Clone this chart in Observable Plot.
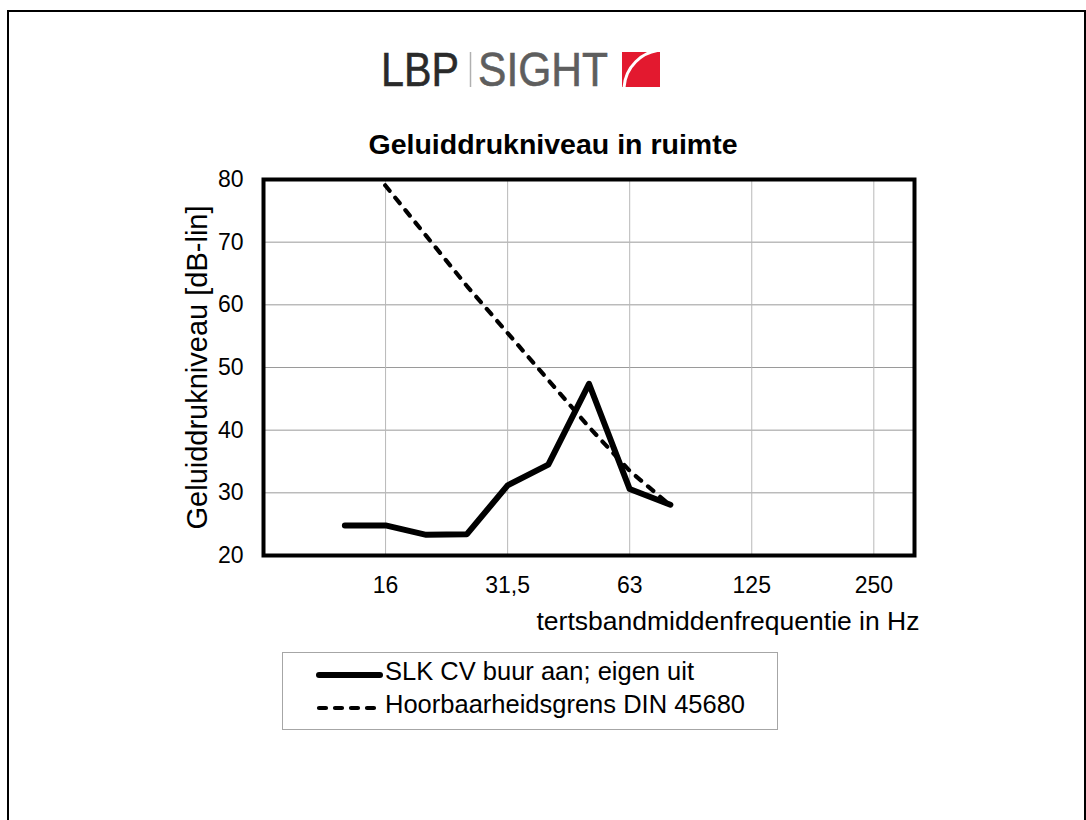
<!DOCTYPE html>
<html><head><meta charset="utf-8">
<script src="https://cdn.jsdelivr.net/npm/d3@7"></script>
<script src="https://cdn.jsdelivr.net/npm/@observablehq/plot@0.6"></script>
<style>
html,body{margin:0;padding:0;background:#fff;}
body{width:1086px;height:820px;position:relative;overflow:hidden;font-family:"Liberation Sans",Arial,sans-serif;color:#000;}
#border{position:absolute;left:7px;top:10px;width:1079px;height:830px;border-left:2px solid #000;border-top:2px solid #000;border-right:2px solid #000;box-sizing:border-box;}
#logo{position:absolute;left:370px;top:40px;}
#title{position:absolute;left:253px;width:600px;top:130px;text-align:center;font-weight:bold;font-size:28.5px;line-height:28px;white-space:nowrap;}
#chart{position:absolute;left:0;top:160px;}
#legend{position:absolute;left:282px;top:652px;width:496px;height:78px;border:1px solid #a6a6a6;box-sizing:border-box;}
.lrow{position:absolute;left:0;height:26px;font-size:25.5px;line-height:26px;white-space:nowrap;}
.lrow svg{position:absolute;left:30px;top:0;}
.lrow span{position:absolute;left:102px;top:0;}
</style>
</head><body>
<div id="border"></div>
<svg id="logo" width="320" height="60">
  <text x="11" y="46" font-family="Liberation Sans, Arial, sans-serif" font-size="49" fill="#2a2a2a" stroke="#2a2a2a" stroke-width="0.6" textLength="78" lengthAdjust="spacingAndGlyphs">LBP</text>
  <line x1="100.5" y1="12" x2="100.5" y2="47" stroke="#b0b0b0" stroke-width="1.5"/>
  <text x="108" y="46" font-family="Liberation Sans, Arial, sans-serif" font-size="49" fill="#5e5e5e" stroke="#5e5e5e" stroke-width="0.6" textLength="130" lengthAdjust="spacingAndGlyphs">SIGHT</text>
  <clipPath id="sq"><rect x="252" y="12" width="38" height="35"/></clipPath>
  <rect x="252" y="12" width="38" height="35" fill="#e3192f"/>
  <circle cx="294" cy="50" r="40" fill="none" stroke="#fff" stroke-width="3" clip-path="url(#sq)"/>
</svg>
<div id="title"></div>
<div id="chart"></div>
<div id="legend"></div>
<script>
// ---- data ----
const freqs = [12.5, 16, 20, 25, 31.5, 40, 50, 63, 80];
const slkValues = [24.8, 24.8, 23.3, 23.4, 31.2, 34.5, 47.4, 30.6, 28.1];
const dinValues = [87, 79, 71, 63, 55.5, 48, 40.5, 33.5, 28];
const seriesNames = ["SLK CV buur aan; eigen uit", "Hoorbaarheidsgrens DIN 45680"];
const xTicks = [16, 31.5, 63, 125, 250];
const xTickLabels = ["16", "31,5", "63", "125", "250"];
const xDomainHz = [8, 315];
const yTicks = [20, 30, 40, 50, 60, 70, 80];
const titleText = "Geluiddrukniveau in ruimte";
const xLabel = "tertsbandmiddenfrequentie in Hz";
const yLabel = "Geluiddrukniveau [dB-lin]";

// third-octave band number of a nominal frequency
const band = f => Math.round(10 * Math.log10(f));

const slk = freqs.map((f, i) => ({b: band(f), v: slkValues[i]}));
const din = freqs.map((f, i) => ({b: band(f), v: dinValues[i]}));
const tickBands = xTicks.map(band);
const tickLabelOf = new Map(tickBands.map((b, i) => [b, xTickLabels[i]]));

const chart = Plot.plot({
  width: 1086, height: 480,
  marginTop: 19, marginBottom: 85, marginLeft: 263, marginRight: 172,
  style: {fontFamily: "Liberation Sans, Arial, sans-serif", background: "transparent", color: "#000", overflow: "visible"},
  x: {type: "linear", domain: xDomainHz.map(band)},
  y: {domain: [20, 80]},
  marks: [
    Plot.gridY(yTicks, {stroke: "#9a9a9a", strokeOpacity: 1, strokeWidth: 1}),
    Plot.gridX(tickBands, {stroke: "#b8b8b8", strokeOpacity: 1, strokeWidth: 1}),
    Plot.axisX(tickBands, {tickSize: 0, tickPadding: 21, fontSize: 23, tickFormat: b => tickLabelOf.get(b), label: null}),
    Plot.axisY(yTicks, {tickSize: 0, tickPadding: 20, fontSize: 23, label: null}),
    Plot.lineY(din, {x: "b", y: "v", stroke: "#000", strokeWidth: 4.2, strokeDasharray: "7,9", strokeLinecap: "round", clip: true}),
    Plot.lineY(slk, {x: "b", y: "v", stroke: "#000", strokeWidth: 6, strokeLinejoin: "round", strokeLinecap: "round"}),
    Plot.frame({stroke: "#000", strokeWidth: 4}),
    Plot.text([xLabel], {text: d => d, frameAnchor: "bottom-right", dx: 5, dy: 66, textAnchor: "end", lineAnchor: "middle", fontSize: 26.5}),
    Plot.text([yLabel], {text: d => d, frameAnchor: "left", dx: -66, rotate: -90, textAnchor: "middle", lineAnchor: "middle", fontSize: 29})
  ]
});
document.getElementById("chart").appendChild(chart);
document.getElementById("title").textContent = titleText;

// legend
const legend = document.getElementById("legend");
const rows = [
  {name: seriesNames[0], dash: null, width: 6, top: 5},
  {name: seriesNames[1], dash: "7,9", width: 4.2, top: 38}
];
rows.forEach(r => {
  const row = document.createElement("div");
  row.className = "lrow";
  row.style.top = r.top + "px";
  row.style.width = "490px";
  const ns = "http://www.w3.org/2000/svg";
  const svg = document.createElementNS(ns, "svg");
  svg.setAttribute("width", "70"); svg.setAttribute("height", "30");
  const ln = document.createElementNS(ns, "line");
  ln.setAttribute("x1", "6"); ln.setAttribute("x2", "67");
  ln.setAttribute("y1", "17"); ln.setAttribute("y2", "17");
  ln.setAttribute("stroke", "#000"); ln.setAttribute("stroke-width", r.width);
  ln.setAttribute("stroke-linecap", "round");
  if (r.dash) ln.setAttribute("stroke-dasharray", r.dash);
  svg.appendChild(ln);
  row.appendChild(svg);
  const sp = document.createElement("span");
  sp.textContent = r.name;
  row.appendChild(sp);
  legend.appendChild(row);
});
</script>
</body></html>
